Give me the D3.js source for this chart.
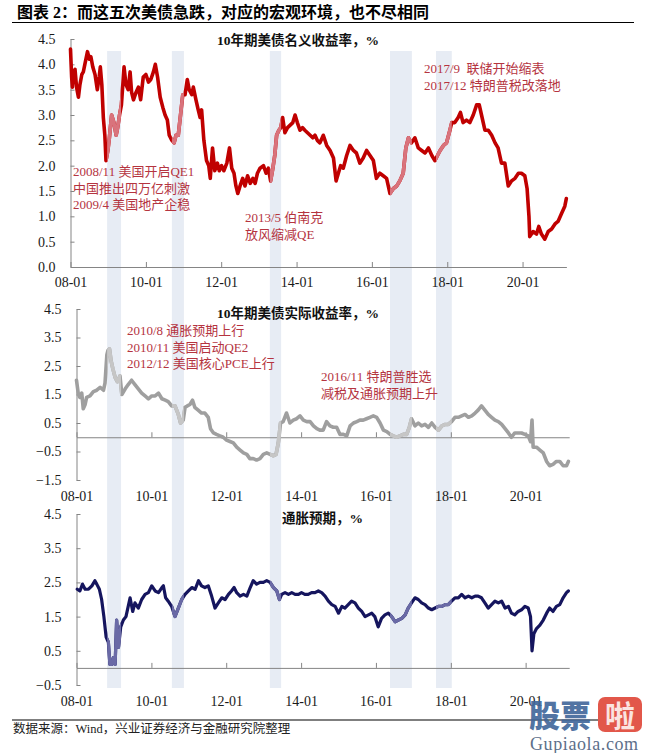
<!DOCTYPE html>
<html><head><meta charset="utf-8">
<script src="https://cdn.jsdelivr.net/npm/d3@7"></script>
<style>body{margin:0;background:#fff}</style>
</head><body>
<svg id="c" width="646" height="753"></svg>
<script>
// ---------- DATA (decimal years / percent) ----------
const nominalT = [
 2008.00,2008.03,2008.05,2008.08,2008.12,2008.16,2008.21,2008.25,2008.30,2008.34,2008.38,2008.45,2008.50,2008.54,2008.59,2008.65,2008.71,2008.76,2008.79,2008.83,2008.87,2008.91,2008.94,2008.99,
 2009.03,2009.09,2009.15,2009.21,2009.25,2009.30,2009.35,2009.42,2009.47,2009.53,2009.58,2009.62,2009.67,2009.74,2009.80,2009.86,2009.93,
 2010.00,2010.07,2010.13,2010.20,2010.25,2010.31,2010.38,2010.45,2010.51,2010.57,2010.62,2010.69,2010.75,2010.80,2010.86,2010.92,2010.98,
 2011.04,2011.10,2011.15,2011.22,2011.26,2011.33,2011.39,2011.44,2011.48,2011.54,2011.61,2011.67,2011.71,2011.77,2011.83,2011.90,2011.95,
 2012.01,2012.07,2012.15,2012.22,2012.28,2012.34,2012.39,2012.44,2012.50,2012.57,2012.63,2012.70,2012.77,2012.84,2012.90,2012.96,
 2013.03,2013.12,2013.19,2013.25,2013.31,2013.37,2013.42,2013.47,2013.53,2013.58,2013.63,2013.69,2013.76,2013.83,2013.90,2013.96,
 2014.02,2014.09,2014.16,2014.22,2014.29,2014.36,2014.43,2014.49,2014.55,2014.62,2014.71,2014.80,2014.89,2014.98,
 2015.05,2015.11,2015.17,2015.24,2015.33,2015.42,2015.51,2015.59,2015.68,2015.77,2015.86,2015.95,
 2016.04,2016.12,2016.21,2016.30,2016.39,2016.48,2016.57,2016.66,2016.74,2016.83,2016.90,2016.97,
 2017.05,2017.14,2017.23,2017.32,2017.41,2017.50,2017.59,2017.67,2017.74,2017.81,2017.90,2017.98,
 2018.07,2018.12,2018.20,2018.29,2018.35,2018.42,2018.51,2018.60,2018.69,2018.78,2018.85,2018.91,
 2019.00,2019.09,2019.18,2019.27,2019.35,2019.44,2019.53,2019.62,2019.71,2019.80,2019.89,2019.97,
 2020.06,2020.12,2020.17,2020.19,2020.28,2020.37,2020.43,2020.50,2020.59,2020.68,2020.77,2020.86,2020.94,
 2021.03,2021.12,2021.16];
const nominalV = [
 4.3,3.75,3.55,3.85,3.9,3.55,3.35,3.6,3.8,3.85,4.0,4.25,4.1,4.15,3.95,3.8,3.5,3.75,3.95,3.6,2.95,2.6,2.1,2.3,
 2.55,3.0,2.85,2.6,2.75,3.0,3.2,3.95,3.6,3.5,3.85,3.45,3.3,3.45,3.55,3.3,3.75,
 3.8,3.65,3.7,3.85,4.0,3.75,3.35,3.15,3.0,2.9,2.6,2.5,2.45,2.6,2.6,3.0,3.4,
 3.4,3.7,3.5,3.4,3.55,3.3,3.1,2.95,3.1,2.5,2.1,2.0,1.75,2.35,1.9,2.05,1.9,
 2.0,1.9,2.05,2.35,1.95,1.85,1.6,1.45,1.6,1.75,1.6,1.8,1.65,1.75,1.65,1.85,
 1.95,2.0,1.85,1.95,1.7,1.95,2.2,2.6,2.7,2.75,2.95,2.65,2.75,2.8,2.85,3.0,
 2.85,2.7,2.75,2.7,2.65,2.6,2.55,2.6,2.5,2.45,2.6,2.4,2.3,2.15,
 1.7,1.85,2.0,1.95,2.2,2.4,2.3,2.25,2.05,2.15,2.3,2.2,
 2.1,1.75,1.85,1.8,1.75,1.45,1.55,1.6,1.7,1.85,2.35,2.55,
 2.45,2.55,2.35,2.3,2.25,2.35,2.2,2.1,2.2,2.3,2.4,2.45,
 2.7,2.85,2.85,2.95,3.05,2.85,2.9,2.85,3.0,3.2,3.2,3.0,
 2.7,2.7,2.6,2.45,2.35,2.05,2.05,1.6,1.7,1.75,1.85,1.85,
 1.8,1.55,1.0,0.6,0.7,0.65,0.8,0.65,0.55,0.7,0.75,0.85,0.9,
 1.05,1.2,1.35];

const realT = [
 2008.00,2008.05,2008.09,2008.14,2008.18,2008.23,2008.27,2008.36,2008.45,2008.54,2008.63,2008.72,2008.76,2008.81,2008.84,2008.88,2008.92,2008.97,
 2009.03,2009.09,2009.16,2009.21,2009.30,2009.38,2009.47,2009.56,2009.65,2009.74,2009.83,2009.92,
 2010.01,2010.10,2010.19,2010.28,2010.37,2010.45,2010.54,2010.63,2010.72,2010.78,2010.85,2010.90,2010.96,
 2011.03,2011.10,2011.16,2011.25,2011.34,2011.43,2011.52,2011.58,2011.66,2011.74,2011.83,2011.92,
 2012.01,2012.10,2012.19,2012.28,2012.37,2012.46,2012.55,2012.63,2012.72,2012.81,2012.90,2012.99,
 2013.08,2013.17,2013.26,2013.33,2013.39,2013.45,2013.52,2013.61,2013.70,2013.79,2013.88,2013.97,
 2014.06,2014.15,2014.24,2014.33,2014.42,2014.50,2014.59,2014.68,2014.77,2014.86,2014.95,
 2015.04,2015.13,2015.22,2015.31,2015.40,2015.49,2015.57,2015.66,2015.75,2015.84,2015.93,
 2016.02,2016.11,2016.20,2016.29,2016.38,2016.46,2016.55,2016.64,2016.73,2016.82,2016.89,2016.95,
 2017.04,2017.13,2017.22,2017.31,2017.40,2017.49,2017.58,2017.67,2017.76,2017.85,2017.93,
 2018.02,2018.11,2018.20,2018.29,2018.38,2018.47,2018.56,2018.65,2018.73,2018.82,2018.91,
 2019.00,2019.09,2019.18,2019.27,2019.36,2019.45,2019.54,2019.62,2019.71,2019.80,2019.89,2019.98,
 2020.07,2020.13,2020.17,2020.20,2020.29,2020.38,2020.47,2020.56,2020.64,2020.73,2020.82,2020.91,
 2021.00,2021.09,2021.14];
const realV = [
 2.0,1.5,1.4,1.55,1.0,1.15,1.4,1.45,1.6,1.65,1.75,1.65,1.9,2.9,3.05,3.1,2.7,2.4,
 2.1,1.95,2.15,1.5,1.7,1.85,2.0,1.85,1.7,1.55,1.45,1.35,
 1.45,1.45,1.55,1.35,1.3,1.25,1.1,1.1,0.8,0.5,0.6,1.05,1.1,
 1.15,1.3,1.05,0.95,0.85,0.85,0.7,0.3,0.15,0.1,0.05,0.0,
 -0.1,-0.15,-0.2,-0.35,-0.45,-0.55,-0.6,-0.75,-0.75,-0.8,-0.75,-0.6,
 -0.55,-0.6,-0.65,-0.6,-0.2,0.5,0.55,0.85,0.5,0.6,0.65,0.75,
 0.6,0.55,0.55,0.4,0.3,0.25,0.25,0.55,0.4,0.35,0.35,
 0.1,0.1,0.05,0.4,0.5,0.55,0.6,0.6,0.65,0.7,0.75,
 0.7,0.5,0.25,0.2,0.1,0.05,0.0,0.05,0.1,0.1,0.35,0.65,
 0.4,0.5,0.4,0.45,0.35,0.5,0.35,0.25,0.4,0.45,0.45,
 0.55,0.7,0.7,0.75,0.8,0.7,0.75,0.85,0.95,1.1,0.95,
 0.8,0.7,0.6,0.55,0.45,0.3,0.15,0.0,0.15,0.15,0.15,0.1,
 0.05,-0.15,0.6,-0.35,-0.35,-0.45,-0.55,-0.85,-1.0,-0.95,-0.85,-0.85,
 -1.0,-1.0,-0.85];

const inflT = [
 2008.02,2008.09,2008.16,2008.23,2008.32,2008.41,2008.49,2008.54,2008.61,2008.67,2008.73,2008.79,2008.85,2008.89,2008.94,2008.98,
 2009.03,2009.07,2009.12,2009.18,2009.25,2009.32,2009.38,2009.43,2009.50,2009.56,2009.65,2009.74,2009.83,2009.92,
 2010.01,2010.10,2010.19,2010.28,2010.32,2010.38,2010.45,2010.54,2010.63,2010.72,2010.81,2010.90,2010.99,
 2011.08,2011.17,2011.26,2011.34,2011.43,2011.52,2011.61,2011.70,2011.79,2011.88,2011.97,
 2012.06,2012.14,2012.21,2012.28,2012.37,2012.46,2012.55,2012.64,2012.72,2012.81,2012.90,2012.99,
 2013.08,2013.17,2013.26,2013.35,2013.42,2013.48,2013.57,2013.66,2013.75,2013.84,2013.93,
 2014.01,2014.10,2014.19,2014.28,2014.37,2014.46,2014.55,2014.64,2014.73,2014.82,2014.91,
 2015.00,2015.09,2015.17,2015.26,2015.35,2015.44,2015.53,2015.62,2015.71,2015.80,2015.89,2015.97,
 2016.06,2016.15,2016.24,2016.33,2016.42,2016.51,2016.60,2016.69,2016.78,2016.86,2016.95,
 2017.04,2017.13,2017.22,2017.31,2017.40,2017.49,2017.58,2017.67,2017.76,2017.85,2017.93,
 2018.02,2018.11,2018.20,2018.29,2018.38,2018.47,2018.56,2018.65,2018.73,2018.82,2018.91,
 2019.00,2019.09,2019.18,2019.27,2019.36,2019.45,2019.54,2019.62,2019.71,2019.80,2019.89,2019.98,
 2020.07,2020.13,2020.17,2020.22,2020.29,2020.38,2020.47,2020.56,2020.64,2020.73,2020.82,2020.91,
 2021.00,2021.09,2021.14];
const inflV = [
 2.3,2.25,2.45,2.3,2.3,2.4,2.55,2.45,2.3,2.0,1.5,0.9,0.75,0.1,0.1,0.3,
 0.1,1.4,0.6,1.2,1.4,1.5,1.8,2.05,1.65,1.9,1.75,2.0,2.15,2.2,
 2.4,2.25,2.2,2.35,2.4,2.05,1.95,1.8,1.5,1.75,2.0,2.15,2.25,
 2.35,2.3,2.55,2.4,2.35,2.4,2.1,1.75,1.9,2.05,2.0,
 2.15,2.25,2.35,2.2,2.1,2.15,2.1,2.35,2.55,2.45,2.5,2.5,
 2.55,2.5,2.35,2.25,2.0,2.15,2.2,2.15,2.2,2.15,2.15,
 2.2,2.15,2.15,2.2,2.2,2.25,2.2,2.1,1.95,1.85,1.8,
 1.6,1.8,1.75,1.85,1.95,1.9,1.75,1.65,1.5,1.55,1.6,1.5,
 1.2,1.45,1.55,1.6,1.5,1.35,1.4,1.45,1.55,1.75,1.9,
 2.05,2.0,1.9,1.85,1.75,1.7,1.75,1.8,1.8,1.85,1.85,
 1.95,2.05,2.05,2.15,2.05,2.1,2.05,2.1,2.1,2.05,1.9,
 1.75,1.85,1.95,1.9,1.95,1.75,1.8,1.6,1.55,1.65,1.7,1.8,
 1.75,1.5,0.5,1.0,1.15,1.25,1.4,1.6,1.75,1.65,1.8,1.85,
 2.05,2.2,2.25];

// shaded episodes (decimal years)
const bandStart = [2008.97, 2010.69, 2013.29, 2016.48, 2017.70];
const bandEnd   = [2009.34, 2011.01, 2013.59, 2017.06, 2018.12];

const xTickYears = [2008, 2010, 2012, 2014, 2016, 2018, 2020];
const nominalTicks = [0, 0.5, 1.0, 1.5, 2.0, 2.5, 3.0, 3.5, 4.0, 4.5];
const realTicks = [-1.5, -0.5, 0.5, 1.5, 2.5, 3.5, 4.5];
const inflTicks = [-0.5, 0.5, 1.5, 2.5, 3.5, 4.5];

const titleText = "图表 2：而这五次美债急跌，对应的宏观环境，也不尽相同";
const sourceText = "数据来源：Wind，兴业证券经济与金融研究院整理";

// ---------- helpers ----------
function toDate(t){
  const y = Math.floor(t), a = new Date(y,0,1), b = new Date(y+1,0,1);
  return new Date(+a + (t - y) * (b - a));
}
const SERIF = "'Liberation Serif','Noto Sans CJK SC',serif";
const CJK = "'Liberation Serif','Noto Sans CJK SC',sans-serif";
const svg = d3.select("#c");
svg.append("rect").attr("width",646).attr("height",753).attr("fill","#fff");

const d0 = toDate(2008), dEnd = toDate(2021.162);

const panels = [
  {t:nominalT, v:nominalV, xr:[70.5,566.4], yr:[267,39], yd:[0,4.5], ticks:nominalTicks,
   color:"#c00000", light:"#d9737c", width:3.6, title:"10年期美债名义收益率，%", tx:217, ty:45, labelPad:10.5},
  {t:realT, v:realV, xr:[76.5,569.2], yr:[480,309], yd:[-1.5,4.5], ticks:realTicks,
   color:"#9f9f9f", light:"#c6c6c6", width:3.6, title:"10年期美债实际收益率，%", tx:217, ty:318, labelPad:54},
  {t:inflT, v:inflV, xr:[76.5,569.2], yr:[685,514], yd:[-0.5,4.5], ticks:inflTicks,
   color:"#15155e", light:"#6a6aa6", width:3.2, title:"通胀预期，%", tx:282, ty:523, labelPad:28}
];

// x-scale of the top panel is used for shaded episode strips
const xTop = d3.scaleTime().domain([d0,dEnd]).range(panels[0].xr);

// bands (behind everything)
const bands = d3.zip(bandStart, bandEnd);
svg.append("g").selectAll("rect").data(bands).join("rect")
  .attr("x", d => xTop(toDate(d[0])))
  .attr("width", d => xTop(toDate(d[1])) - xTop(toDate(d[0])))
  .attr("y", 51).attr("height", 637)
  .attr("fill", "#e7ecf4");

const clip = svg.append("defs").append("clipPath").attr("id","bandclip");
clip.selectAll("rect").data(bands).join("rect")
  .attr("x", d => xTop(toDate(d[0])))
  .attr("width", d => xTop(toDate(d[1])) - xTop(toDate(d[0])))
  .attr("y", 0).attr("height", 753);

panels.forEach(p => {
  const x = d3.scaleTime().domain([d0,dEnd]).range(p.xr);
  const y = d3.scaleLinear().domain(p.yd).range(p.yr);
  const data = d3.zip(p.t, p.v);
  const g = svg.append("g");

  const ya = g.append("g").attr("transform",`translate(${p.xr[0]},0)`)
    .call(d3.axisLeft(y).tickValues(p.ticks).tickFormat(d3.format(".1f"))
      .tickSizeInner(-4).tickSizeOuter(0).tickPadding(15));
  const xa = g.append("g").attr("transform",`translate(0,${y(0)})`)
    .call(d3.axisBottom(x).tickValues(xTickYears.map(v=>toDate(v)))
      .tickFormat(d3.timeFormat("%y-%m")).tickSizeInner(-5).tickSizeOuter(0).tickPadding(p.labelPad));
  [ya, xa].forEach(a => {
    a.attr("font-family", SERIF).attr("font-size", 14);
    a.selectAll("path,line").attr("stroke","#858585");
    a.selectAll("text").attr("fill","#1a1a1a");
  });

  const line = d3.line().x(d => x(toDate(d[0]))).y(d => y(d[1])).curve(d3.curveLinear);
  g.append("path").attr("d", line(data)).attr("fill","none").attr("stroke", p.color)
    .attr("stroke-width", p.width).attr("stroke-linejoin","round").attr("stroke-linecap","round");
  g.append("path").attr("d", line(data)).attr("fill","none").attr("stroke", p.light)
    .attr("stroke-width", p.width).attr("stroke-linejoin","round")
    .attr("clip-path","url(#bandclip)");

  g.append("text").attr("x", p.tx).attr("y", p.ty).text(p.title)
    .attr("font-family", SERIF).attr("font-weight","bold").attr("font-size",13.5).attr("fill","#111");
});

// annotations
const notes = [
  {x:73, y:176, s:"2008/11 美国开启QE1"},
  {x:73, y:192.5, s:"中国推出四万亿刺激"},
  {x:73, y:209, s:"2009/4 美国地产企稳"},
  {x:245, y:222, s:"2013/5 伯南克"},
  {x:245, y:238.5, s:"放风缩减QE"},
  {x:424, y:73, s:"2017/9  联储开始缩表"},
  {x:424, y:90, s:"2017/12 特朗普税改落地"},
  {x:127, y:335, s:"2010/8 通胀预期上行"},
  {x:127, y:351.5, s:"2010/11 美国启动QE2"},
  {x:127, y:368, s:"2012/12 美国核心PCE上行"},
  {x:321, y:381, s:"2016/11 特朗普胜选"},
  {x:321, y:398, s:"减税及通胀预期上升"}
];
svg.append("g").selectAll("text").data(notes).join("text")
  .attr("x", d=>d.x).attr("y", d=>d.y).text(d=>d.s)
  .attr("font-family", CJK).attr("font-size", 13).attr("fill", "#b5343f")
  .style("white-space","pre").attr("xml:space","preserve");

// header & footer
svg.append("text").attr("x",17).attr("y",18).text(titleText)
  .attr("font-family", CJK).attr("font-weight","bold").attr("font-size",16).attr("fill","#000");
svg.append("line").attr("x1",12).attr("x2",634).attr("y1",22.5).attr("y2",22.5).attr("stroke","#000").attr("stroke-width",1.2);
svg.append("line").attr("x1",12).attr("x2",634).attr("y1",720).attr("y2",720).attr("stroke","#000").attr("stroke-width",1.2);
svg.append("text").attr("x",13).attr("y",733).text(sourceText)
  .attr("font-family", CJK).attr("font-size",12.5).attr("fill","#222");

// watermark
const wm = svg.append("g");
wm.append("text").attr("x",529).attr("y",727).text("股票")
  .attr("font-family","'Noto Sans CJK SC'").attr("font-weight","900").attr("font-size",31).attr("fill","#40669a").attr("opacity",0.9);
wm.append("rect").attr("x",598).attr("y",697).attr("width",44).attr("height",35).attr("rx",7).attr("fill","#e2574a");
wm.append("text").attr("x",620).attr("y",727).attr("text-anchor","middle").text("啦")
  .attr("font-family","'Noto Sans CJK SC'").attr("font-weight","bold").attr("font-size",30).attr("fill","#fbe4e0");
wm.append("text").attr("x",530).attr("y",750).text("Gupiaola.com")
  .attr("font-family","'Liberation Serif',serif").attr("font-size",18).attr("letter-spacing",0.6).attr("fill","#5d6f8a");
</script>
</body></html>
